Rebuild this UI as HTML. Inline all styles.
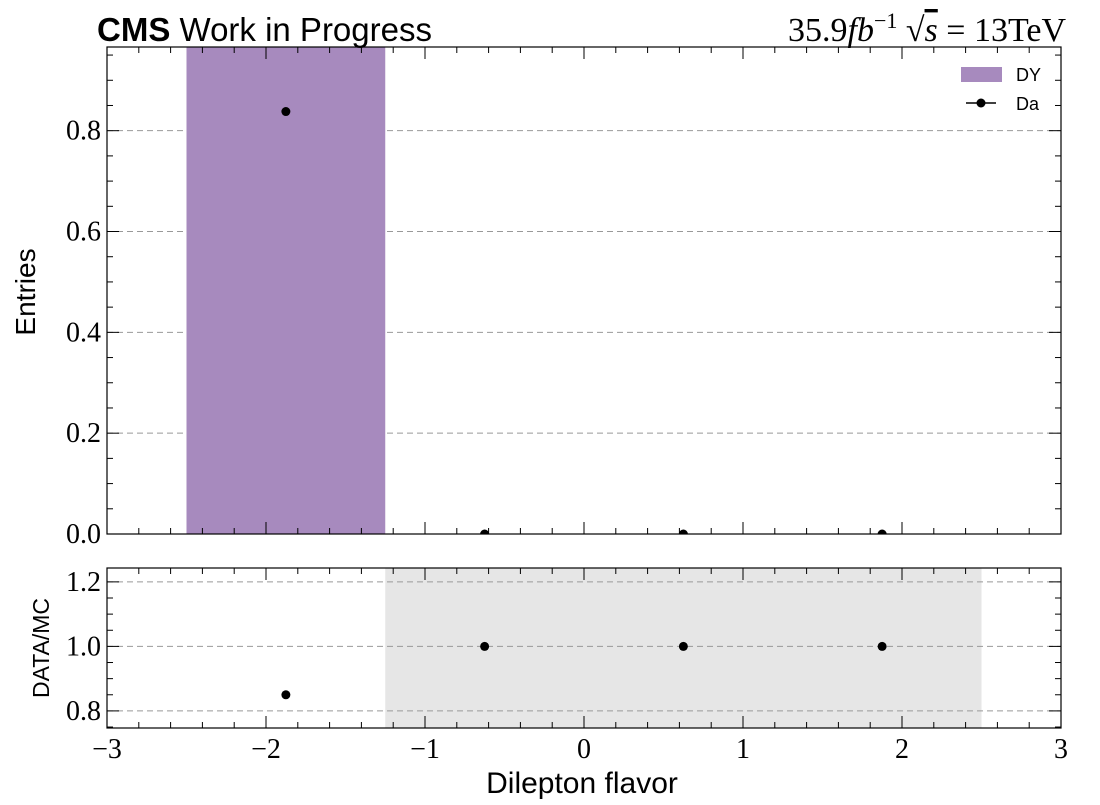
<!DOCTYPE html>
<html><head><meta charset="utf-8"><style>
body{margin:0;background:#fff;width:1100px;height:800px;overflow:hidden}
.tl{font-family:"Liberation Serif",serif;font-size:28px}
</style></head><body>
<svg id="c" width="1100" height="800"></svg>
<script>
const binEdges=[-2.5,-1.25,0,1.25,2.5];
const dyValues=[1.2,0,0,0];
const dataX=[-1.875,-0.625,0.625,1.875];
const dataY=[0.838,0,0,0];
const ratioY=[0.85,1,1,1];
const xTicks=[-3,-2,-1,0,1,2,3];
const yTicks=[0,0.2,0.4,0.6,0.8];
const rTicks=[0.8,1.0,1.2];
const bandRange=[-1.25,2.5];
const NS="http://www.w3.org/2000/svg";
const svg=document.getElementById('c');
const L=107,R=1061,T1=47,B1=534,T2=568,B2=728;
const X=v=>L+(v+3)/6*(R-L);
const Y1=v=>B1-v/0.966*(B1-T1);
const Y2=v=>B2-(v-0.747)/(1.243-0.747)*(B2-T2);
function el(t,a,p){const e=document.createElementNS(NS,t);for(const k in a)e.setAttribute(k,a[k]);(p||svg).appendChild(e);return e;}
const defs=el('defs',{});
const cp=el('clipPath',{id:'cp1'},defs);el('rect',{x:L,y:T1,width:R-L,height:B1-T1},cp);
yTicks.forEach(v=>{const g=el('line',{x1:L,x2:R,y1:Y1(v),y2:Y1(v),stroke:'#999','stroke-dasharray':'6,4','stroke-width':1});
});
for(let i=0;i<dyValues.length;i++){if(dyValues[i]<=0)continue;
const r=el('rect',{x:X(binEdges[i]),y:Y1(dyValues[i]),width:X(binEdges[i+1])-X(binEdges[i]),height:Y1(0)-Y1(dyValues[i]),fill:'#a78abe','clip-path':'url(#cp1)'});
}
dataX.forEach((x,i)=>{const c=el('circle',{cx:X(x),cy:Y1(dataY[i]),r:4.5,fill:'#000','clip-path':'url(#cp1)'});
});
const band=el('rect',{x:X(bandRange[0]),y:T2,width:X(bandRange[1])-X(bandRange[0]),height:B2-T2,fill:'#e6e6e6'});

rTicks.forEach(v=>{const g=el('line',{x1:L,x2:R,y1:Y2(v),y2:Y2(v),stroke:'#999','stroke-dasharray':'6,4','stroke-width':1});
});
dataX.forEach((x,i)=>{const c=el('circle',{cx:X(x),cy:Y2(ratioY[i]),r:4.5,fill:'#000'});
});
[[T1,B1],[T2,B2]].forEach(([t,b],k)=>{const f=el('rect',{x:L,y:t,width:R-L,height:b-t,fill:'none',stroke:'#000','stroke-width':1.2});

for(let v=-3;v<=3.001;v+=0.2){const major=Math.abs(v-Math.round(v))<1e-6;const len=major?12:6;
el('line',{x1:X(v),x2:X(v),y1:t,y2:t+len,stroke:'#000'});el('line',{x1:X(v),x2:X(v),y1:b,y2:b-len,stroke:'#000'});}});
for(let v=0;v<=0.96;v+=0.05){const major=Math.abs(v/0.2-Math.round(v/0.2))<1e-6;const len=major?12:6;
el('line',{x1:L,x2:L+len,y1:Y1(v),y2:Y1(v),stroke:'#000'});el('line',{x1:R,x2:R-len,y1:Y1(v),y2:Y1(v),stroke:'#000'});}
for(let v=0.75;v<=1.2401;v+=0.05){const major=Math.abs(v/0.2-Math.round(v/0.2))<1e-6;const len=major?12:6;
el('line',{x1:L,x2:L+len,y1:Y2(v),y2:Y2(v),stroke:'#000'});el('line',{x1:R,x2:R-len,y1:Y2(v),y2:Y2(v),stroke:'#000'});}
yTicks.forEach(v=>{const t=el('text',{x:L-6,y:Y1(v)+9,'text-anchor':'end',class:'tl'});t.textContent=v.toFixed(1);
});
rTicks.forEach(v=>{const t=el('text',{x:L-6,y:Y2(v)+9,'text-anchor':'end',class:'tl'});t.textContent=v.toFixed(1);
});
xTicks.forEach(v=>{const t=el('text',{x:X(v),y:758,'text-anchor':'middle',class:'tl'});t.textContent=(v<0?'\u2212':'')+Math.abs(v);
});
</script>
<svg width="1100" height="800" style="position:absolute;left:0;top:0">
<text x="97" y="41" style="font-family:'Liberation Sans',sans-serif;font-size:33px"><tspan font-weight="bold">CMS</tspan> Work in Progress</text>
<text x="1066" y="41" text-anchor="end" style="font-family:'Liberation Serif',serif;font-size:34px">35.9<tspan font-style="italic">fb</tspan><tspan font-size="22" dy="-13">−1</tspan><tspan dy="13"> √</tspan><tspan font-style="italic" text-decoration="overline">s</tspan> = 13TeV</text>
<text x="35" y="292" transform="rotate(-90 35 292)" text-anchor="middle" style="font-family:'Liberation Sans',sans-serif;font-size:28px">Entries</text>
<text x="49" y="648" transform="rotate(-90 49 648)" text-anchor="middle" style="font-family:'Liberation Sans',sans-serif;font-size:23px">DATA/MC</text>
<text x="582" y="793" text-anchor="middle" style="font-family:'Liberation Sans',sans-serif;font-size:30px">Dilepton flavor</text>
<g style="font-family:'Liberation Sans',sans-serif;font-size:18px">
<rect x="961" y="67" width="41" height="15" fill="#a78abe"/>
<text x="1016" y="81">DY</text>
<line x1="966" x2="996" y1="103" y2="103" stroke="#000" stroke-width="1.5"/>
<circle cx="981" cy="103" r="4.5" fill="#000"/>
<text x="1016" y="110">Da</text>
</g>
</svg>
</body></html>
